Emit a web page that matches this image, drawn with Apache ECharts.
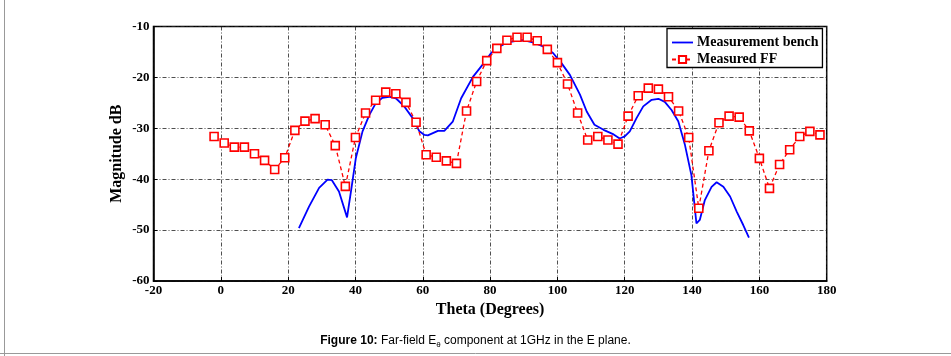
<!DOCTYPE html>
<html>
<head>
<meta charset="utf-8">
<script src="https://cdn.jsdelivr.net/npm/echarts@6/dist/echarts.min.js"></script>
<style>html,body{margin:0;padding:0;background:#fff}#c{width:951px;height:356px}</style>
</head>
<body>
<div id="c"></div>
<script>
const xTicks = [-20, 0, 20, 40, 60, 80, 100, 120, 140, 160, 180];
const yTicks = [-60, -50, -40, -30, -20, -10];

const benchTheta = [23.2, 26.2, 29.2, 31.7, 33.0, 35.1, 37.5, 38.8, 40.1, 42.1, 44.1, 46.0, 48.0, 50.0, 52.0, 54.5, 57.0, 59.0, 60.5, 61.5, 64.5, 66.4, 68.9, 71.4, 74.9, 77.9, 80.3, 82.8, 85.3, 87.8, 89.8, 92.7, 95.7, 98.7, 101.2, 103.7, 106.7, 108.7, 111.0, 113.7, 116.7, 118.5, 120.0, 121.5, 123.5, 125.5, 128.0, 130.0, 131.9, 133.9, 135.9, 137.9, 139.8, 141.3, 142.3, 143.8, 145.8, 147.3, 149.3, 151.3, 153.3, 155.2, 156.9];
const benchDb = [-49.6, -45.4, -41.7, -40.1, -40.2, -42.4, -47.5, -41.8, -35.9, -30.6, -27.4, -25.1, -24.0, -23.8, -24.1, -25.7, -28.0, -30.6, -31.3, -31.4, -30.5, -30.5, -28.7, -24.1, -19.9, -17.4, -15.2, -13.9, -13.1, -12.8, -12.7, -13.1, -13.9, -15.2, -17.2, -19.5, -23.4, -26.7, -29.3, -30.3, -31.2, -32.0, -31.6, -30.6, -28.0, -25.7, -24.4, -24.2, -24.8, -26.4, -28.6, -33.3, -39.2, -48.7, -48.0, -44.1, -41.5, -40.6, -41.5, -43.4, -46.4, -49.0, -51.5];

const ffTheta = [-2, 1, 4, 7, 10, 13, 16, 19, 22, 25, 28, 31, 34, 37, 40, 43, 46, 49, 52, 55, 58, 61, 64, 67, 70, 73, 76, 79, 82, 85, 88, 91, 94, 97, 100, 103, 106, 109, 112, 115, 118, 121, 124, 127, 130, 133, 136, 139, 142, 145, 148, 151, 154, 157, 160, 163, 166, 169, 172, 175, 178];
const ffDb = [-31.6, -32.9, -33.7, -33.7, -35.0, -36.3, -38.1, -35.8, -30.4, -28.6, -28.1, -29.3, -33.4, -41.4, -31.8, -27.0, -24.5, -22.9, -23.2, -24.9, -28.8, -35.2, -35.7, -36.4, -36.9, -26.6, -20.8, -16.7, -14.3, -12.7, -12.1, -12.1, -12.8, -14.5, -17.1, -21.3, -27.0, -32.3, -31.6, -32.3, -33.1, -27.6, -23.6, -22.1, -22.3, -23.8, -26.6, -31.8, -45.7, -34.4, -28.9, -27.6, -27.8, -30.5, -35.9, -41.8, -37.1, -34.2, -31.6, -30.6, -31.3];

const serif = 'Liberation Serif';
const chart = echarts.init(document.getElementById('c'), null, {renderer: 'canvas'});
const split = {show: true, lineStyle: {color: '#222', width: 0.8, type: [4, 2, 1, 2]}};
chart.setOption({
  animation: false,
  backgroundColor: '#fff',
  grid: {left: 153.5, right: 124.3, top: 26.5, bottom: 75, show: true, borderColor: '#000', borderWidth: 1.5, backgroundColor: 'transparent'},
  legend: {
    orient: 'vertical', left: 667, top: 28.5, itemGap: 3, itemWidth: 21, itemHeight: 9,
    padding: [7, 4, 1, 4], borderColor: '#000', borderWidth: 1.3, backgroundColor: '#fff',
    textStyle: {fontFamily: serif, fontWeight: 'bold', fontSize: 14, color: '#000', padding: [0, 0, 0, -1]},
    data: [
      {name: 'Measurement bench', icon: 'path://M0,0H21V1.8H0Z', itemStyle: {color: '#0000ff', borderWidth: 0}},
      {name: 'Measured FF'}
    ]
  },
  xAxis: {
    type: 'value', min: xTicks[0], max: xTicks[xTicks.length - 1], interval: 20,
    name: 'Theta (Degrees)', nameLocation: 'middle', nameGap: 19,
    nameTextStyle: {fontFamily: serif, fontWeight: 'bold', fontSize: 16, color: '#000'},
    axisLine: {onZero: false, lineStyle: {color: '#000', width: 1.5}},
    axisTick: {inside: true, length: 4, lineStyle: {color: '#000'}},
    axisLabel: {fontFamily: serif, fontWeight: 'bold', fontSize: 13, color: '#000', margin: 3},
    splitLine: split
  },
  yAxis: {
    type: 'value', min: yTicks[0], max: yTicks[yTicks.length - 1], interval: 10,
    name: 'Magnitude dB', nameLocation: 'middle', nameGap: 29, nameMoveOverlap: false,
    nameTextStyle: {fontFamily: serif, fontWeight: 'bold', fontSize: 16, color: '#000'},
    axisLine: {onZero: false, lineStyle: {color: '#000', width: 1.5}},
    axisTick: {inside: true, length: 4, lineStyle: {color: '#000'}},
    axisLabel: {fontFamily: serif, fontWeight: 'bold', fontSize: 13, color: '#000', margin: 4},
    splitLine: split
  },
  series: [
    {
      name: 'Measurement bench', type: 'line', showSymbol: false, symbol: 'none',
      data: benchTheta.map((t, i) => [t, benchDb[i]]),
      lineStyle: {color: '#0000ff', width: 1.8}, itemStyle: {color: '#0000ff'}, z: 2
    },
    {
      name: 'Measured FF', type: 'line', symbol: 'rect', symbolSize: 8,
      data: ffTheta.map((t, i) => [t, ffDb[i]]),
      lineStyle: {color: '#ff0000', width: 1.3, type: [4, 3]},
      itemStyle: {color: '#fff', borderColor: '#ff0000', borderWidth: 1.6}, z: 3
    }
  ],
  graphic: [
    {type: 'line', shape: {x1: 4.5, y1: 0, x2: 4.5, y2: 356}, style: {stroke: '#999', lineWidth: 1}},
    {type: 'line', shape: {x1: 0, y1: 353.5, x2: 951, y2: 353.5}, style: {stroke: '#999', lineWidth: 1}},
    {
      type: 'text', left: 'center', top: 335,
      style: {
        text: '{b|Figure 10:} Far-field E{s|θ} component at 1GHz in the E plane.',
        fontFamily: 'Liberation Sans', fontSize: 12, fill: '#000',
        rich: {
          b: {fontFamily: 'Liberation Sans', fontWeight: 'bold', fontSize: 12},
          s: {fontFamily: 'Liberation Sans', fontSize: 8, padding: [7, 0, 0, 0]}
        }
      }
    }
  ]
});
</script>
</body>
</html>
